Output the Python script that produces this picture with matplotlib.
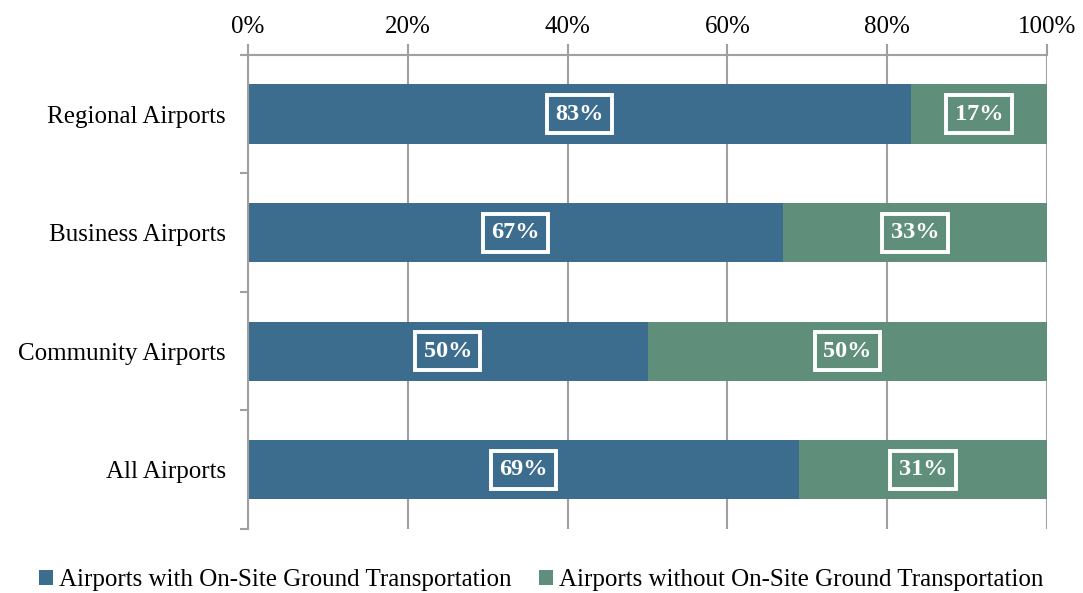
import matplotlib.pyplot as plt
import numpy as np

categories = ['Regional Airports', 'Business Airports', 'Community Airports', 'All Airports']
with_transport = [83, 67, 50, 69]
without_transport = [17, 33, 50, 31]
series_names = ['Airports with On-Site Ground Transportation',
                'Airports without On-Site Ground Transportation']
xticks = [0, 20, 40, 60, 80, 100]

blue = '#3d6d8e'
green = '#5f8f7b'
grid_c = '#a0a0a0'

plt.rcParams['font.family'] = ['Liberation Serif', 'DejaVu Serif']

fig = plt.figure(figsize=(10.83, 5.93), dpi=100)
ax = fig.add_axes([0.229, 0.108, 0.7378, 0.7995])

y = np.arange(len(categories))
h = 0.5
ax.barh(y, with_transport, height=h, color=blue, label=series_names[0], zorder=2)
ax.barh(y, without_transport, left=with_transport, height=h, color=green,
        label=series_names[1], zorder=2)

# data labels in white boxes
box = dict(boxstyle='square,pad=0.35', facecolor='none', edgecolor='white', linewidth=2.8)
for i in range(len(categories)):
    ax.text(with_transport[i] / 2, y[i], f'{with_transport[i]}%', ha='center', va='center',
            color='white', fontsize=17.5, fontweight='bold', bbox=box, zorder=3)
    ax.text(with_transport[i] + without_transport[i] / 2, y[i], f'{without_transport[i]}%',
            ha='center', va='center', color='white', fontsize=17.5, fontweight='bold',
            bbox=box, zorder=3)

ax.set_xlim(0, 100)
ax.set_ylim(len(categories) - 0.5, -0.5)
ax.xaxis.tick_top()
ax.set_xticks(xticks)
ax.set_xticklabels([f'{t}%' for t in xticks], fontsize=18)
ax.set_yticks(y)
ax.set_yticklabels(categories, fontsize=18)
ax.tick_params(axis='y', length=0, pad=16)
ax.set_yticks(np.arange(len(categories) + 1) - 0.5, minor=True)
ax.tick_params(axis='y', which='minor', length=6, color=grid_c, width=1.5)
ax.tick_params(axis='x', length=8, color=grid_c, width=1.5, pad=4)

ax.grid(axis='x', color=grid_c, linewidth=1.5, zorder=1)
for s in ['right', 'bottom']:
    ax.spines[s].set_visible(False)
for s in ['left', 'top']:
    ax.spines[s].set_color(grid_c)
    ax.spines[s].set_linewidth(1.5)

fig.legend(loc='lower center', bbox_to_anchor=(0.5, -0.035), ncol=2, frameon=False,
           fontsize=18, handlelength=0.55, handleheight=0.55, handletextpad=0.25,
           columnspacing=1.1)

plt.savefig('out.png', dpi=100)
